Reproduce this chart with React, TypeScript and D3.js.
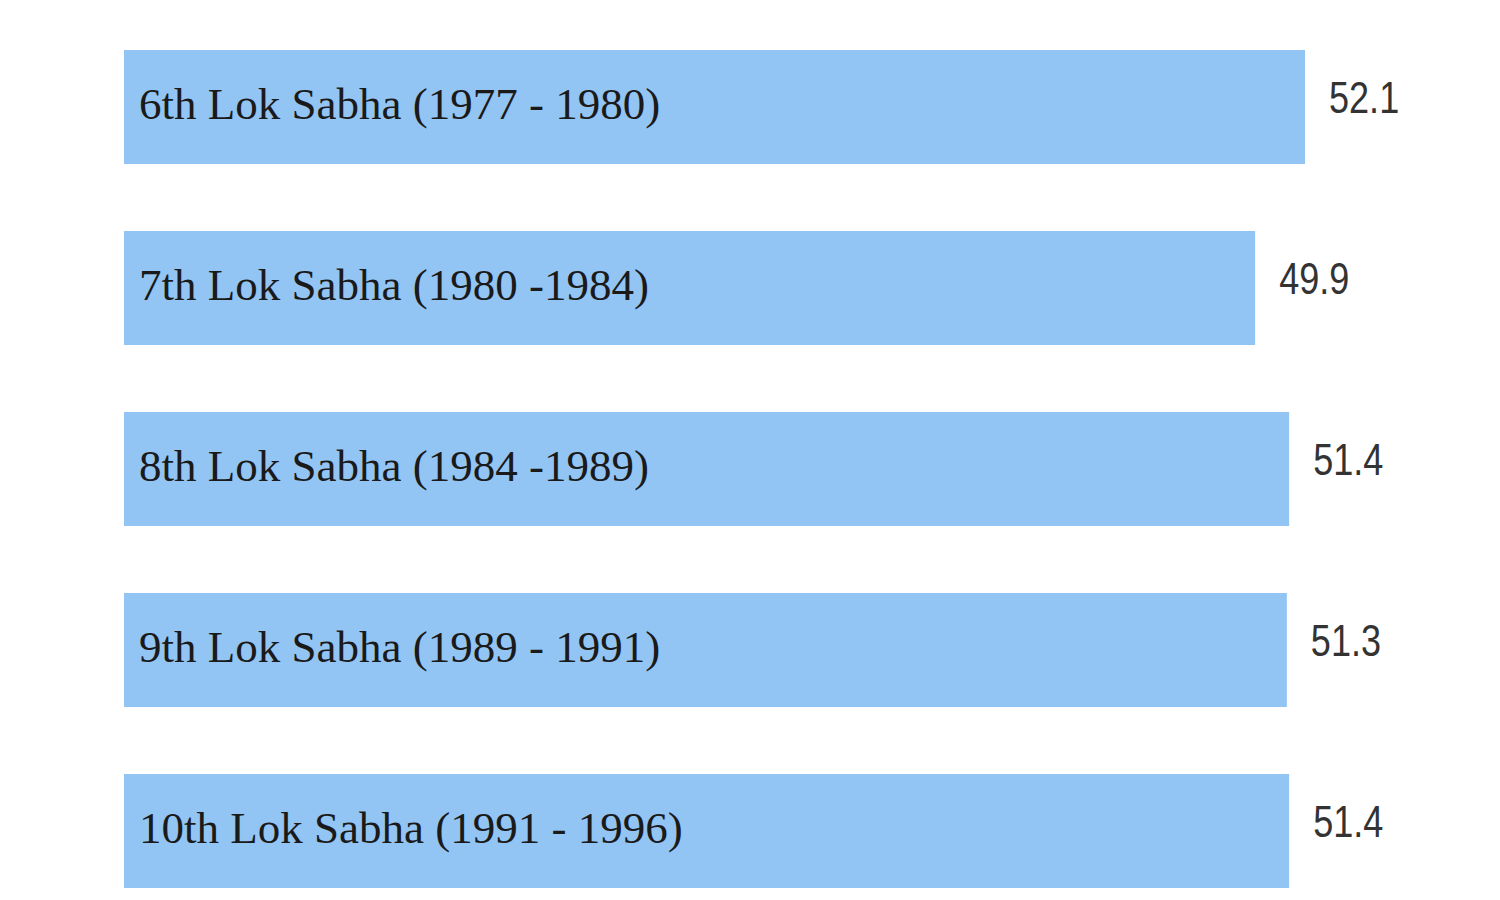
import React from "react";
import * as d3 from "d3";

const categories = [
  "6th Lok Sabha (1977 - 1980)",
  "7th Lok Sabha (1980 -1984)",
  "8th Lok Sabha (1984 -1989)",
  "9th Lok Sabha (1989 - 1991)",
  "10th Lok Sabha (1991 - 1996)",
];
const values = [52.1, 49.9, 51.4, 51.3, 51.4];
const valueLabels = ["52.1", "49.9", "51.4", "51.3", "51.4"];

const W = 1500;
const H = 900;

export default function App() {
  const x = d3.scaleLinear().domain([0, 52.1]).range([124, 1305]);
  const y = d3
    .scaleBand<string>()
    .domain(categories)
    .range([50, 888])
    .paddingInner(0.37)
    .paddingOuter(0);
  const bw = y.bandwidth();

  return (
    <svg
      width={W}
      height={H}
      style={{ position: "absolute", left: 0, top: 0, background: "#ffffff" }}
    >
      {categories.map((c, i) => {
        const y0 = y(c) as number;
        const cy = y0 + bw / 2;
        const xr = x(values[i]);
        return (
          <g key={c}>
            <rect x={x(0)} y={y0} width={xr - x(0)} height={bw} fill="#93C5F4" />
            <text
              x={x(0) + 15}
              y={cy + 12}
              fontFamily="'Liberation Serif', 'Times New Roman', serif"
              fontSize={45}
              fill="#1a1a1a"
            >
              {c}
            </text>
            <text
              transform={`translate(${xr + 24},${cy + 6}) scale(0.82,1)`}
              fontFamily="'Liberation Sans', Arial, sans-serif"
              fontSize={44}
              fill="#333333"
            >
              {valueLabels[i]}
            </text>
          </g>
        );
      })}
    </svg>
  );
}
